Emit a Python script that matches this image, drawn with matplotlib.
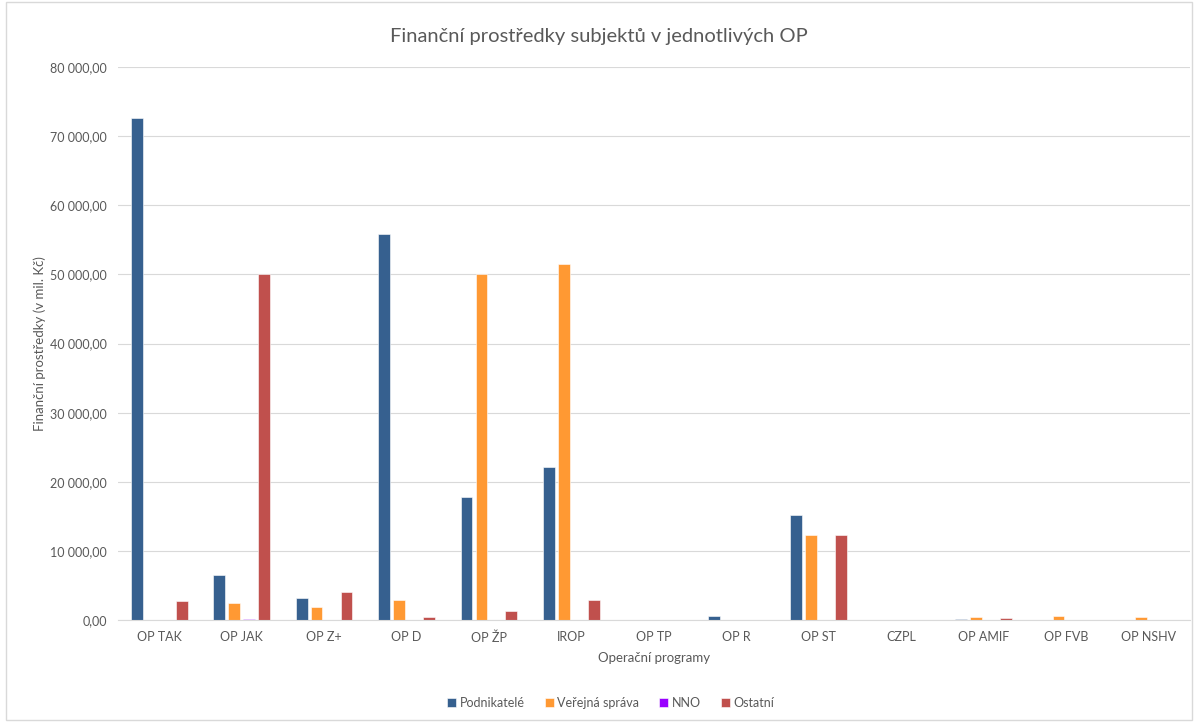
import numpy as np
import matplotlib
matplotlib.use("Agg")
import matplotlib.pyplot as plt
from matplotlib.patches import Rectangle

plt.rcParams['font.family'] = ['Lato', 'DejaVu Sans']

programs = ["OP TAK", "OP JAK", "OP Z+", "OP D", "OP ŽP", "IROP", "OP TP",
            "OP R", "OP ST", "CZPL", "OP AMIF", "OP FVB", "OP NSHV"]
podnikatele = [72650, 6500, 3150, 55800, 17750, 22100, 0, 550, 15200, 0, 100, 0, 0]
verejna = [60, 2400, 1950, 2950, 50000, 51500, 40, 0, 12300, 40, 400, 600, 400]
nno = [60, 150, 0, 0, 0, 0, 40, 0, 0, 0, 0, 0, 0]
ostatni = [2750, 50000, 4000, 450, 1350, 2950, 40, 40, 12350, 0, 300, 0, 0]

series = [("Podnikatelé", podnikatele, "#36608f"),
          ("Veřejná správa", verejna, "#ff9933"),
          ("NNO", nno, "#9900ff"),
          ("Ostatní", ostatni, "#c0504d")]

fig = plt.figure(figsize=(11.98, 7.22), dpi=100)
ax = fig.add_axes([0.0985, 0.1413, 0.8945, 0.7657])

x = np.arange(len(programs))
w = 1 / 7
step = 1.27 / 7
for i, (name, vals, col) in enumerate(series):
    ax.bar(x + (i - 1.5) * step, vals, width=w, color=col, label=name,
           edgecolor="white", linewidth=0.4)

ax.set_xlim(-0.5, len(programs) - 0.5)
ax.set_ylim(0, 80000)
ax.set_yticks(np.arange(0, 80001, 10000))
ax.set_yticklabels([f"{v:,.2f}".replace(",", " ").replace(".", ",") for v in np.arange(0, 80001, 10000)])
ax.set_xticks(x)
ax.set_xticklabels(programs)
ax.tick_params(length=0, labelsize=9, colors="#595959", pad=8)
ax.grid(axis="y", color="#d9d9d9", linewidth=0.8)
ax.set_axisbelow(True)
for s in ["top", "right", "left"]:
    ax.spines[s].set_visible(False)
ax.spines["bottom"].set_color("#d9d9d9")

ax.set_ylabel("Finanční prostředky (v mil. Kč)", fontsize=9.5, color="#595959", labelpad=3)
ax.set_xlabel("Operační programy", fontsize=9.5, color="#595959", labelpad=6)
fig.text(0.5, 0.949, "Finanční prostředky subjektů v jednotlivých OP", ha="center",
         va="center", fontsize=14.5, color="#595959")

fig.legend(loc="center", bbox_to_anchor=(0.51, 0.027), ncol=4, frameon=False,
           fontsize=9, handlelength=0.7, handleheight=0.7, handletextpad=0.3,
           columnspacing=1.6, labelcolor="#595959")

fig.patches.append(Rectangle((0.005, 0.003), 0.99, 0.994, transform=fig.transFigure,
                             fill=False, edgecolor="#d9d9d9", linewidth=1))

plt.savefig("out.png")
plt.close()
